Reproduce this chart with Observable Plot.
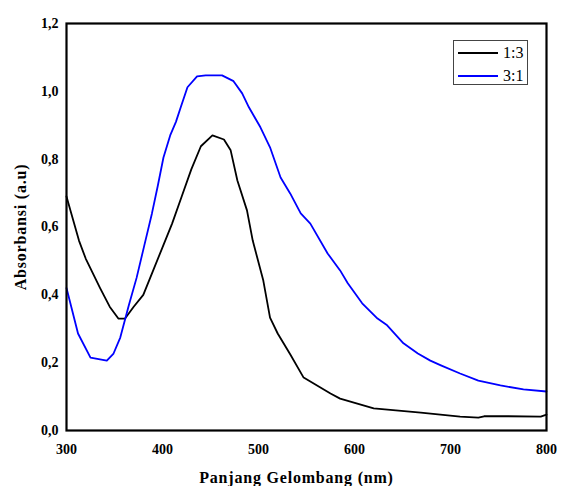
<!DOCTYPE html>
<html>
<head>
<meta charset="utf-8">
<script src="https://cdn.jsdelivr.net/npm/d3@7"></script>
<script src="https://cdn.jsdelivr.net/npm/@observablehq/plot@0.6"></script>
<style>
  html, body { margin: 0; padding: 0; background: #fff; }
  #wrap { position: relative; width: 563px; height: 486px; }
  #legend { position: absolute; left: 453px; top: 40px; width: 75px; height: 45px;
    border: 1px solid #444; background: #fff; font-family: "Liberation Serif", "Times New Roman", serif;
    font-size: 16px; box-sizing: border-box; }
  .row { position: absolute; left: 4px; height: 20px; display: flex; align-items: center; }
  .sw { width: 40px; height: 0; border-top: 2px solid; margin-right: 5px; }
</style>
</head>
<body>
<div id="wrap"></div>
<script>
const seriesNames = ["1:3", "3:1"];
const seriesColors = ["#000000", "#0000ff"];

const wl13 = [300,305,313,320,335,345,354,361,370,380,390,400,410,420,430,440,452,464,471,478,488,494,505,512,520,533,547,575,585,620,669,710,729,735,760,794,800];
const abs13 = [0.69,0.64,0.56,0.507,0.42,0.365,0.33,0.33,0.365,0.40,0.47,0.54,0.61,0.69,0.77,0.838,0.870,0.858,0.826,0.737,0.649,0.56,0.442,0.333,0.286,0.225,0.156,0.109,0.094,0.065,0.053,0.041,0.038,0.042,0.042,0.041,0.047];

const wl31 = [300,312,325,342,349,356,365,373,381,389,395,401,408,414,419,426,436,445,462,474,483,490,502,512,523,533,544,554,572,585,593,608,624,634,651,666,679,690,710,729,752,776,800];
const abs31 = [0.42,0.286,0.215,0.206,0.227,0.274,0.37,0.45,0.545,0.64,0.72,0.805,0.87,0.91,0.953,1.012,1.044,1.047,1.047,1.03,0.994,0.953,0.894,0.835,0.746,0.699,0.64,0.61,0.522,0.472,0.434,0.375,0.33,0.31,0.257,0.227,0.206,0.192,0.168,0.147,0.133,0.121,0.115];

const xTicks = [300,400,500,600,700,800];
const yTicks = [0,0.2,0.4,0.6,0.8,1.0,1.2];

const data = [
  ...wl13.map((x,i)=>({x, y: abs13[i], s: seriesNames[0]})),
  ...wl31.map((x,i)=>({x, y: abs31[i], s: seriesNames[1]}))
];

const chart = Plot.plot({
  width: 563,
  height: 486,
  marginLeft: 66,
  marginRight: 17,
  marginTop: 23,
  marginBottom: 56,
  style: { fontFamily: "'Liberation Serif', 'Times New Roman', serif", background: "#fff", color: "#000" },
  x: { domain: [300, 800] },
  y: { domain: [0, 1.2] },
  color: { domain: seriesNames, range: seriesColors },
  marks: [
    Plot.axisX({ ticks: xTicks, tickSize: 0, tickPadding: 14, fontSize: 14, fontWeight: "bold",
      label: "Panjang Gelombang (nm)", labelAnchor: "center", labelArrow: "none", labelOffset: 52 }),
    Plot.axisY({ ticks: yTicks, tickSize: 0, tickPadding: 8, fontSize: 14, fontWeight: "bold",
      tickFormat: d => d.toFixed(1).replace(".", ","),
      label: "Absorbansi (a.u)", labelAnchor: "center", labelArrow: "none", labelOffset: 52 }),
    Plot.line(data, { x: "x", y: "y", z: "s", stroke: "s", strokeWidth: 1.8 }),
    Plot.frame({ stroke: "#000", strokeWidth: 2.2 })
  ]
});

// style the axis labels
chart.querySelectorAll('[aria-label="x-axis label"] text, [aria-label="y-axis label"] text').forEach(t => {
  t.setAttribute("font-size", "16");
  t.setAttribute("font-weight", "bold");
  t.style.letterSpacing = "0.8px";
});
chart.querySelectorAll('[aria-label="x-axis label"] text').forEach(t => {
  t.setAttribute("dx", "-10");
});

const wrap = document.getElementById("wrap");
wrap.appendChild(chart);

const legend = document.createElement("div");
legend.id = "legend";
seriesNames.forEach((name, i) => {
  const row = document.createElement("div");
  row.className = "row";
  row.style.top = (2 + i * 23) + "px";
  const sw = document.createElement("div");
  sw.className = "sw";
  sw.style.borderTopColor = seriesColors[i];
  const lab = document.createElement("span");
  lab.textContent = name;
  row.appendChild(sw);
  row.appendChild(lab);
  legend.appendChild(row);
});
wrap.appendChild(legend);
</script>
</body>
</html>
